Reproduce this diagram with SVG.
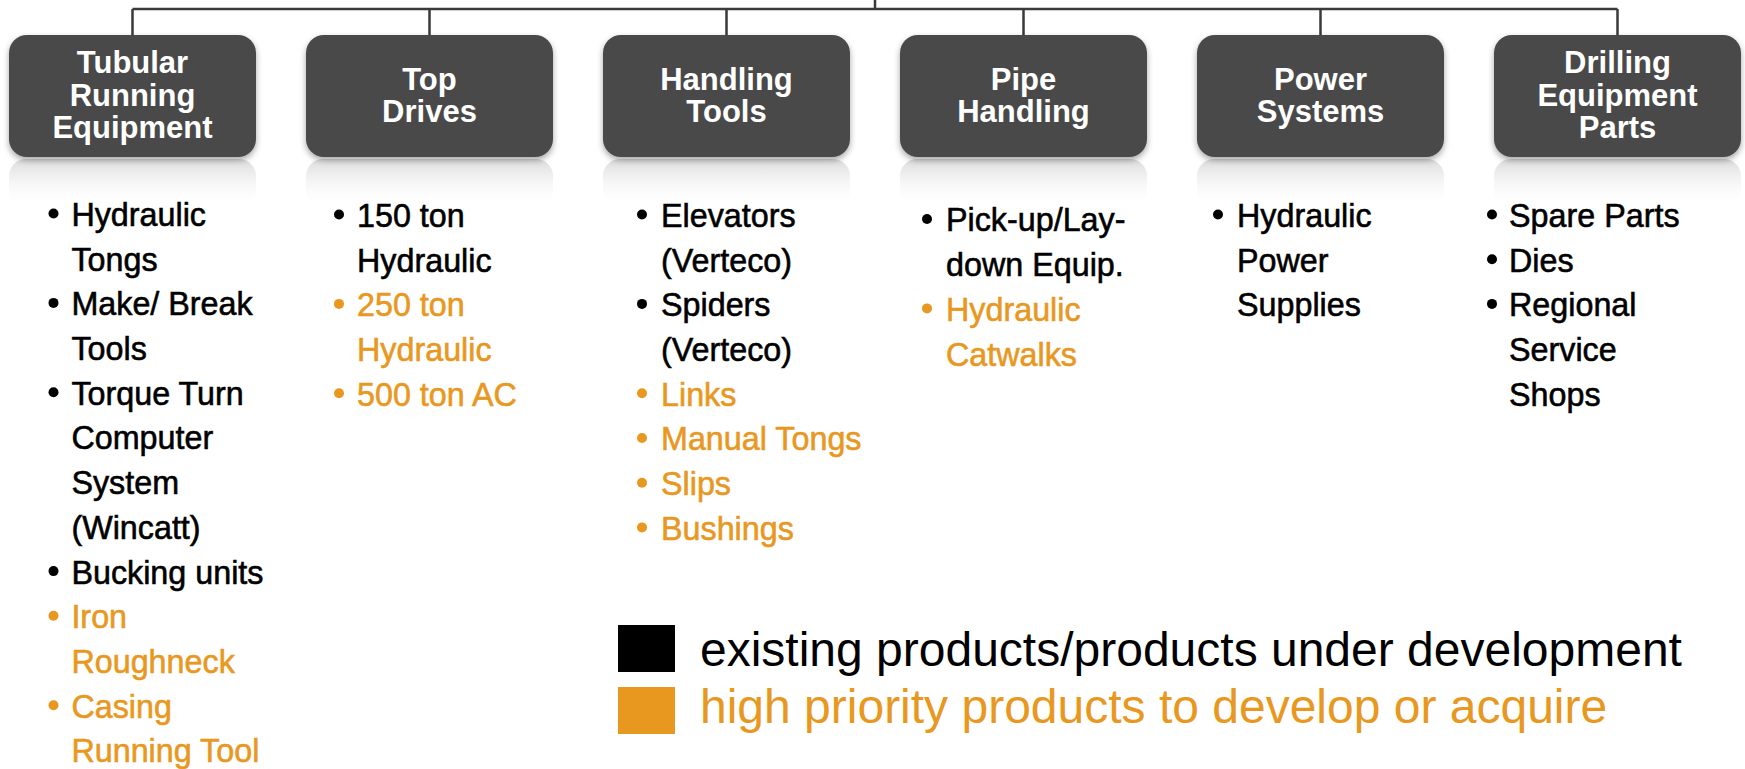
<svg xmlns="http://www.w3.org/2000/svg" width="1745" height="769" viewBox="0 0 1745 769">
<defs>
<filter id="sh" x="-10%" y="-10%" width="120%" height="130%">
<feDropShadow dx="0" dy="3" stdDeviation="3" flood-color="#000" flood-opacity="0.35"/>
</filter>
<linearGradient id="refl" x1="0" y1="0" x2="0" y2="1">
<stop offset="0" stop-color="#cfcfcf" stop-opacity="0.75"/>
<stop offset="1" stop-color="#ffffff" stop-opacity="0"/>
</linearGradient>
</defs>
<style>
.box{fill:#48484a;filter:url(#sh)}
.rf{fill:url(#refl)}
.ttl{font-family:"Liberation Sans",Arial,sans-serif;font-weight:bold;font-size:31px;fill:#ffffff;text-anchor:middle}
.li{font-family:"Liberation Sans",Arial,sans-serif;font-size:34px;stroke-width:0.6px}
.k{fill:#000000;stroke:#000000}
.o{fill:#e9981f;stroke:#e9981f}
.bk{fill:#000000}
.bo{fill:#e9981f}
.con{stroke:#3a3a3a;stroke-width:2.5;fill:none}
.lg{font-family:"Liberation Sans",Arial,sans-serif;font-size:48px}
</style>
<rect width="1745" height="769" fill="#ffffff"/>

<g id="connectors">
<path class="con" d="M875,0 V9 M132.5,9 H1617.5 M132.5,9 V35 M429.5,9 V35 M726.5,9 V35 M1023.5,9 V35 M1320.5,9 V35 M1617.5,9 V35"/>
</g>

<g id="node-tubular">
<rect class="rf" x="9" y="159" width="247" height="48" rx="17"/>
<rect class="box" x="9" y="35" width="247" height="122" rx="18"/>
<text class="ttl" x="132.5" y="73">Tubular</text>
<text class="ttl" x="132.5" y="105.5">Running</text>
<text class="ttl" x="132.5" y="138">Equipment</text>
</g>
<g id="node-topdrives">
<rect class="rf" x="306" y="159" width="247" height="48" rx="17"/>
<rect class="box" x="306" y="35" width="247" height="122" rx="18"/>
<text class="ttl" x="429.5" y="90">Top</text>
<text class="ttl" x="429.5" y="122">Drives</text>
</g>
<g id="node-handling">
<rect class="rf" x="603" y="159" width="247" height="48" rx="17"/>
<rect class="box" x="603" y="35" width="247" height="122" rx="18"/>
<text class="ttl" x="726.5" y="90">Handling</text>
<text class="ttl" x="726.5" y="122">Tools</text>
</g>
<g id="node-pipe">
<rect class="rf" x="900" y="159" width="247" height="48" rx="17"/>
<rect class="box" x="900" y="35" width="247" height="122" rx="18"/>
<text class="ttl" x="1023.5" y="90">Pipe</text>
<text class="ttl" x="1023.5" y="122">Handling</text>
</g>
<g id="node-power">
<rect class="rf" x="1197" y="159" width="247" height="48" rx="17"/>
<rect class="box" x="1197" y="35" width="247" height="122" rx="18"/>
<text class="ttl" x="1320.5" y="90">Power</text>
<text class="ttl" x="1320.5" y="122">Systems</text>
</g>
<g id="node-drilling">
<rect class="rf" x="1494" y="159" width="247" height="48" rx="17"/>
<rect class="box" x="1494" y="35" width="247" height="122" rx="18"/>
<text class="ttl" x="1617.5" y="73">Drilling</text>
<text class="ttl" x="1617.5" y="105.5">Equipment</text>
<text class="ttl" x="1617.5" y="138">Parts</text>
</g>

<g id="list-tubular">
<circle class="bk" cx="53.5" cy="213.5" r="5"/>
<circle class="bk" cx="53.5" cy="302.9" r="5"/>
<circle class="bk" cx="53.5" cy="392.3" r="5"/>
<circle class="bk" cx="53.5" cy="571.1" r="5"/>
<circle class="bo" cx="53.5" cy="615.8" r="5"/>
<circle class="bo" cx="53.5" cy="705.2" r="5"/>
<g transform="translate(71.4,0) scale(0.95,1)">
<text class="li k" x="0" y="226">Hydraulic</text>
<text class="li k" x="0" y="270.7">Tongs</text>
<text class="li k" x="0" y="315.4">Make/ Break</text>
<text class="li k" x="0" y="360.1">Tools</text>
<text class="li k" x="0" y="404.8">Torque Turn</text>
<text class="li k" x="0" y="449.5">Computer</text>
<text class="li k" x="0" y="494.2">System</text>
<text class="li k" x="0" y="538.9">(Wincatt)</text>
<text class="li k" x="0" y="583.6">Bucking units</text>
<text class="li o" x="0" y="628.3">Iron</text>
<text class="li o" x="0" y="673">Roughneck</text>
<text class="li o" x="0" y="717.7">Casing</text>
<text class="li o" x="0" y="762.4">Running Tool</text>
</g>
</g>

<g id="list-topdrives">
<circle class="bk" cx="339" cy="214.5" r="5"/>
<circle class="bo" cx="339" cy="303.9" r="5"/>
<circle class="bo" cx="339" cy="393.3" r="5"/>
<g transform="translate(357,0) scale(0.95,1)">
<text class="li k" x="0" y="227">150 ton</text>
<text class="li k" x="0" y="271.7">Hydraulic</text>
<text class="li o" x="0" y="316.4">250 ton</text>
<text class="li o" x="0" y="361.1">Hydraulic</text>
<text class="li o" x="0" y="405.8">500 ton AC</text>
</g>
</g>

<g id="list-handling">
<circle class="bk" cx="642" cy="214.5" r="5"/>
<circle class="bk" cx="642" cy="303.9" r="5"/>
<circle class="bo" cx="642" cy="393.3" r="5"/>
<circle class="bo" cx="642" cy="438" r="5"/>
<circle class="bo" cx="642" cy="482.7" r="5"/>
<circle class="bo" cx="642" cy="527.4" r="5"/>
<g transform="translate(661,0) scale(0.95,1)">
<text class="li k" x="0" y="227">Elevators</text>
<text class="li k" x="0" y="271.7">(Verteco)</text>
<text class="li k" x="0" y="316.4">Spiders</text>
<text class="li k" x="0" y="361.1">(Verteco)</text>
<text class="li o" x="0" y="405.8">Links</text>
<text class="li o" x="0" y="450.5">Manual Tongs</text>
<text class="li o" x="0" y="495.2">Slips</text>
<text class="li o" x="0" y="539.9">Bushings</text>
</g>
</g>

<g id="list-pipe">
<circle class="bk" cx="927" cy="219" r="5"/>
<circle class="bo" cx="927" cy="308.4" r="5"/>
<g transform="translate(946,0) scale(0.95,1)">
<text class="li k" x="0" y="231.5">Pick-up/Lay-</text>
<text class="li k" x="0" y="276.2">down Equip.</text>
<text class="li o" x="0" y="320.9">Hydraulic</text>
<text class="li o" x="0" y="365.6">Catwalks</text>
</g>
</g>

<g id="list-power">
<circle class="bk" cx="1218" cy="214.5" r="5"/>
<g transform="translate(1237,0) scale(0.95,1)">
<text class="li k" x="0" y="227">Hydraulic</text>
<text class="li k" x="0" y="271.7">Power</text>
<text class="li k" x="0" y="316.4">Supplies</text>
</g>
</g>

<g id="list-drilling">
<circle class="bk" cx="1492" cy="214.5" r="5"/>
<circle class="bk" cx="1492" cy="259.2" r="5"/>
<circle class="bk" cx="1492" cy="303.9" r="5"/>
<g transform="translate(1509,0) scale(0.95,1)">
<text class="li k" x="0" y="227">Spare Parts</text>
<text class="li k" x="0" y="271.7">Dies</text>
<text class="li k" x="0" y="316.4">Regional</text>
<text class="li k" x="0" y="361.1">Service</text>
<text class="li k" x="0" y="405.8">Shops</text>
</g>
</g>

<g id="legend">
<rect x="618" y="625" width="57" height="47" fill="#000000"/>
<rect x="618" y="687" width="57" height="47" fill="#e9981f"/>
<text class="lg" x="700" y="666" fill="#000000">existing products/products under development</text>
<text class="lg" x="700" y="723" fill="#e9981f">high priority products to develop or acquire</text>
</g>
</svg>
